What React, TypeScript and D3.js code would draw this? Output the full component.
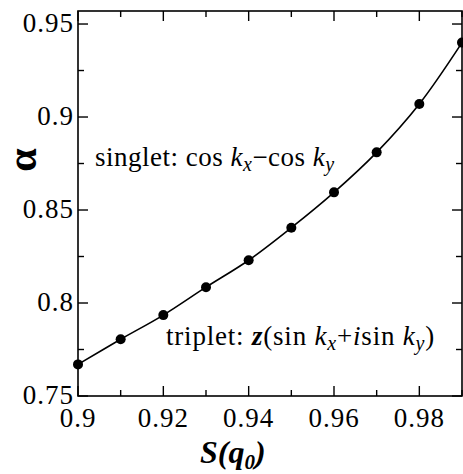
import React, { useEffect, useRef } from "react";
import * as d3 from "d3";

// S(q0) vs alpha
const sValues = [0.9, 0.91, 0.92, 0.93, 0.94, 0.95, 0.96, 0.97, 0.98, 0.99];
const alphaValues = [0.767, 0.7805, 0.7935, 0.8085, 0.823, 0.8405, 0.8595, 0.881, 0.907, 0.940];
const xTicks = [0.9, 0.92, 0.94, 0.96, 0.98];
const xMinor = [0.91, 0.93, 0.95, 0.97, 0.99];
const yTicks = [0.75, 0.8, 0.85, 0.9, 0.95];
const yMinor = [0.775, 0.825, 0.875, 0.925];

const W = 463, H = 474;
const margin = { top: 11, right: 1, bottom: 78, left: 78 };
const font = "Times New Roman, Liberation Serif, DejaVu Serif, serif";

export default function App() {
  const ref = useRef<SVGSVGElement>(null);

  useEffect(() => {
    const svg = d3.select(ref.current);
    svg.selectAll("*").remove();

    const width = W - margin.left - margin.right;
    const height = H - margin.top - margin.bottom;

    const x = d3.scaleLinear().domain([0.9, 0.99]).range([0, width]);
    const y = d3.scaleLinear().domain([0.75, 0.957]).range([height, 0]);

    const g = svg.append("g").attr("transform", `translate(${margin.left},${margin.top})`);

    // frame
    g.append("rect")
      .attr("width", width).attr("height", height)
      .attr("fill", "none").attr("stroke", "#000").attr("stroke-width", 1.6);

    const tick = (x1: number, y1: number, x2: number, y2: number) =>
      g.append("line").attr("x1", x1).attr("y1", y1).attr("x2", x2).attr("y2", y2)
        .attr("stroke", "#000").attr("stroke-width", 1.4);

    xTicks.forEach(v => { tick(x(v), height, x(v), height - 10); tick(x(v), 0, x(v), 10); });
    xMinor.forEach(v => { tick(x(v), height, x(v), height - 6); tick(x(v), 0, x(v), 6); });
    yTicks.forEach(v => { tick(0, y(v), 10, y(v)); tick(width, y(v), width - 10, y(v)); });
    yMinor.forEach(v => { tick(0, y(v), 6, y(v)); tick(width, y(v), width - 6, y(v)); });

    g.selectAll(".xl").data(xTicks).enter().append("text")
      .attr("x", d => x(d)).attr("y", height + 31)
      .attr("text-anchor", "middle")
      .attr("font-family", font).attr("font-size", 27).attr("letter-spacing", 1)
      .text(d => d3.format("")(d));

    g.selectAll(".yl").data(yTicks).enter().append("text")
      .attr("x", -4).attr("y", d => y(d) + 8)
      .attr("text-anchor", "end")
      .attr("font-family", font).attr("font-size", 27).attr("letter-spacing", 1)
      .text(d => d3.format("")(d));

    const line = d3.line<number>()
      .x((d, i) => x(sValues[i]))
      .y(d => y(d))
      .curve(d3.curveCatmullRom);

    g.append("path").datum(alphaValues)
      .attr("d", line).attr("fill", "none")
      .attr("stroke", "#000").attr("stroke-width", 1.6);

    g.selectAll(".pt").data(alphaValues).enter().append("circle")
      .attr("cx", (d, i) => x(sValues[i])).attr("cy", d => y(d))
      .attr("r", 5).attr("fill", "#000");

    // annotations
    const singlet = svg.append("text").attr("x", 95).attr("y", 166)
      .attr("font-family", font).attr("font-size", 27).attr("letter-spacing", 0.5);
    singlet.append("tspan").text("singlet: cos ");
    singlet.append("tspan").attr("font-style", "italic").text("k");
    singlet.append("tspan").attr("dy", 5).attr("font-size", 20).attr("font-style", "italic").text("x");
    singlet.append("tspan").attr("dy", -5).text("\u2212cos ");
    singlet.append("tspan").attr("font-style", "italic").text("k");
    singlet.append("tspan").attr("dy", 5).attr("font-size", 20).attr("font-style", "italic").text("y");

    const triplet = svg.append("text").attr("x", 166).attr("y", 345)
      .attr("font-family", font).attr("font-size", 27).attr("letter-spacing", 0.8);
    triplet.append("tspan").text("triplet: ");
    triplet.append("tspan").attr("font-style", "italic").attr("font-weight", "bold").text("z");
    triplet.append("tspan").text("(sin ");
    triplet.append("tspan").attr("font-style", "italic").text("k");
    triplet.append("tspan").attr("dy", 5).attr("font-size", 20).attr("font-style", "italic").text("x");
    triplet.append("tspan").attr("dy", -5).text("+");
    triplet.append("tspan").attr("font-style", "italic").text("i");
    triplet.append("tspan").text("sin ");
    triplet.append("tspan").attr("font-style", "italic").text("k");
    triplet.append("tspan").attr("dy", 5).attr("font-size", 20).attr("font-style", "italic").text("y");
    triplet.append("tspan").attr("dy", -5).text(")");

    // axis labels
    svg.append("text")
      .attr("transform", "translate(36,160) rotate(-90)")
      .attr("text-anchor", "middle")
      .attr("font-family", font).attr("font-size", 42).attr("font-weight", "bold")
      .text("\u03b1");

    const xl = svg.append("text").attr("x", 200).attr("y", 463)
      .attr("font-family", font).attr("font-size", 32)
      .attr("font-weight", "bold").attr("font-style", "italic");
    xl.append("tspan").text("S(q");
    xl.append("tspan").attr("dy", 6).attr("font-size", 21).text("0");
    xl.append("tspan").attr("dy", -6).text(")");
  }, []);

  return (
    <svg ref={ref} width={W} height={H} style={{ position: "absolute", left: 0, top: 0 }} />
  );
}
